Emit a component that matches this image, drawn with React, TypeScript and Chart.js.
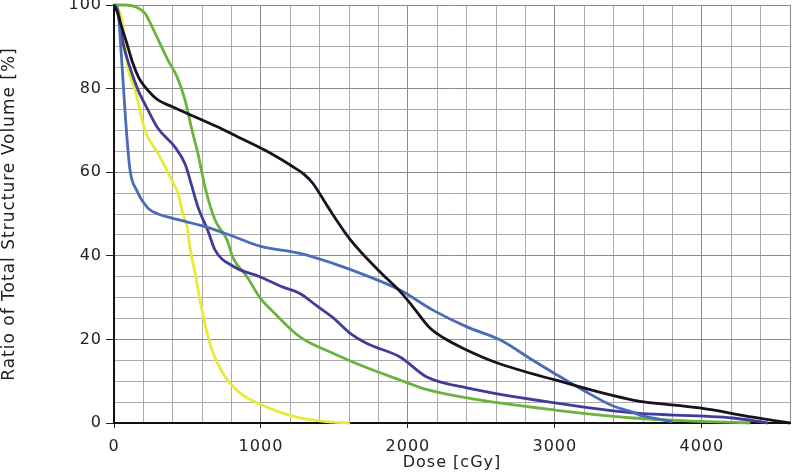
import React, { useEffect, useRef } from "react";
import { Chart, registerables } from "chart.js";

Chart.register(...registerables);

const X_MAX = 4600;
const Y_MAX = 100;
const X_LABEL_STEP = 1000;
const Y_LABEL_STEP = 20;

const blackDose = [0, 20, 50, 86, 129, 170, 211, 265, 299, 400, 503, 707, 810, 1041, 1218, 1290, 1354, 1450, 1605, 1800, 1946, 2034, 2150, 2250, 2374, 2605, 3000, 3531, 3986, 4347, 4600];
const blackVol = [100, 98.5, 95, 91, 86, 82.5, 80.4, 78.3, 77.3, 75.6, 74, 70.8, 69, 65, 61.3, 59.6, 57.3, 52, 44, 36.5, 31.5, 27.8, 22.7, 20.2, 17.9, 14.4, 10.3, 5.5, 3.6, 1.4, 0];

const lightBlueDose = [0, 25, 50, 80, 109, 154, 231, 300, 395, 619, 823, 993, 1265, 1490, 1700, 1946, 2170, 2401, 2626, 2850, 3000, 3190, 3400, 3531, 3578, 3700, 3800];
const lightBlueVol = [100, 99, 88, 72, 60.5, 55.7, 51.4, 50, 49, 47, 44.5, 42.3, 40.6, 38.2, 35.5, 31.8, 27, 23, 19.9, 15, 11.8, 7.9, 4, 2.6, 1.9, 1, 0.3];

const darkBlueDose = [0, 30, 61, 109, 163, 231, 299, 415, 483, 531, 571, 639, 687, 810, 993, 1150, 1265, 1381, 1490, 1605, 1721, 1946, 2129, 2401, 3000, 3531, 4211, 4449];
const darkBlueVol = [100, 98, 91, 85, 79.7, 74.9, 70.5, 66, 62, 56.5, 51.7, 46, 41.4, 37.5, 35, 32.5, 31, 28, 25.2, 21.5, 19, 15.8, 11, 8.4, 4.8, 2.4, 1.2, 0];

const greenDose = [0, 75, 150, 211, 279, 367, 429, 483, 531, 571, 619, 687, 769, 810, 905, 993, 1100, 1265, 1490, 1721, 1946, 2100, 2401, 3000, 3531, 3986, 4330];
const greenVol = [100, 100, 99.5, 98, 93.3, 86.8, 82.8, 77.3, 70, 64.5, 56.5, 48.6, 43.8, 39.5, 35, 30, 26, 20.6, 16.7, 13.2, 10.3, 8.3, 6, 3.1, 1.2, 0.4, 0];

const yellowDose = [0, 30, 54, 95, 143, 211, 299, 395, 435, 469, 497, 517, 551, 585, 653, 741, 857, 1041, 1265, 1490, 1605];
const yellowVol = [100, 99, 96.4, 85, 79.7, 70, 64.5, 58, 55, 50, 47, 42, 36, 29.4, 19, 11.9, 7.2, 3.8, 1.2, 0.2, 0];

const series = [
  { name: "Structure 1", dose: blackDose, vol: blackVol, color: "#1b1020" },
  { name: "Structure 2", dose: lightBlueDose, vol: lightBlueVol, color: "#4a6cb8" },
  { name: "Structure 3", dose: darkBlueDose, vol: darkBlueVol, color: "#3f3d98" },
  { name: "Structure 4", dose: greenDose, vol: greenVol, color: "#6cb33c" },
  { name: "Structure 5", dose: yellowDose, vol: yellowVol, color: "#e8ea3a" },
];

const FONT = "'DejaVu Sans', Verdana, sans-serif";

const spacingPlugin = {
  id: "letterSpacing",
  beforeLayout(chart: any) {
    chart.ctx.letterSpacing = "1px";
  },
  beforeDraw(chart: any) {
    chart.ctx.letterSpacing = "1px";
  },
};

export default function App() {
  const ref = useRef<HTMLCanvasElement | null>(null);

  useEffect(() => {
    if (!ref.current) return;
    const chart = new Chart(ref.current, {
      type: "line",
      data: {
        datasets: series.map((s) => ({
          label: s.name,
          data: s.dose.map((d, i) => ({ x: d, y: s.vol[i] })),
          borderColor: s.color,
          backgroundColor: s.color,
          borderWidth: 2.8,
          pointRadius: 0,
          cubicInterpolationMode: "monotone" as const,
          clip: 4,
        })),
      },
      options: {
        animation: false,
        responsive: false,
        devicePixelRatio: 1,
        layout: { padding: { top: 5, right: 6, left: 0, bottom: 0 } },
        plugins: { legend: { display: false }, tooltip: { enabled: false } },
        scales: {
          x: {
            type: "linear",
            min: 0,
            max: X_MAX,
            afterFit: (scale: any) => {
              scale.height = 53;
              scale.paddingLeft = 0;
              scale.paddingRight = 0;
            },
            ticks: {
              stepSize: 200,
              autoSkip: false,
              maxRotation: 0,
              padding: 9,
              color: "#222",
              font: { family: FONT, size: 16 },
              callback: (v: any) => (Number(v) % X_LABEL_STEP === 0 ? String(v) : ""),
            },
            grid: {
              color: (ctx: any) => {
                const v = ctx.tick ? ctx.tick.value : 0;
                return v % X_LABEL_STEP === 0 || v === X_MAX ? "#8a8a8a" : "#ababab";
              },
              lineWidth: 1,
              tickLength: 5,
              tickColor: (ctx: any) => {
                const v = ctx.tick ? ctx.tick.value : 0;
                return v % X_LABEL_STEP === 0 ? "#222" : "rgba(0,0,0,0)";
              },
            },
            border: { display: true, color: "#111", width: 2 },
            title: {
              display: true,
              text: "Dose [cGy]",
              color: "#222",
              font: { family: FONT, size: 16 },
              padding: { top: 0, bottom: 4 },
            },
          },
          y: {
            type: "linear",
            min: 0,
            max: Y_MAX,
            afterFit: (scale: any) => {
              scale.width = 114;
              scale.paddingTop = 0;
              scale.paddingBottom = 0;
            },
            ticks: {
              stepSize: 5,
              autoSkip: false,
              padding: 4,
              color: "#222",
              font: { family: FONT, size: 16 },
              callback: (v: any) => (Number(v) % Y_LABEL_STEP === 0 ? String(v) : ""),
            },
            grid: {
              color: (ctx: any) => {
                const v = ctx.tick ? ctx.tick.value : 0;
                return v % Y_LABEL_STEP === 0 ? "#8a8a8a" : "#ababab";
              },
              lineWidth: 1,
              tickLength: 8,
              tickColor: (ctx: any) => {
                const v = ctx.tick ? ctx.tick.value : 0;
                return v % Y_LABEL_STEP === 0 ? "#222" : "rgba(0,0,0,0)";
              },
            },
            border: { display: true, color: "#111", width: 2 },
            title: {
              display: true,
              text: "Ratio of Total Structure Volume [%]",
              color: "#222",
              font: { family: FONT, size: 17 },
              padding: { top: -1, bottom: 0 },
            },
          },
        },
      },
      plugins: [spacingPlugin],
    });
    return () => chart.destroy();
  }, []);

  return (
    <div style={{ position: "fixed", left: 0, top: 0, width: 796, height: 476, background: "#fff" }}>
      <canvas ref={ref} width={796} height={476} style={{ display: "block", width: 796, height: 476 }} />
    </div>
  );
}
